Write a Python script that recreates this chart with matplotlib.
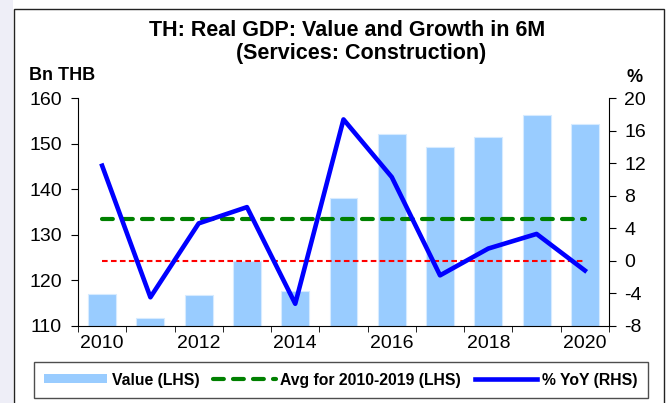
import numpy as np
import matplotlib.pyplot as plt
from matplotlib.patches import Rectangle
from matplotlib.lines import Line2D
from matplotlib.patches import Patch

plt.rcParams['font.family'] = ['Liberation Sans', 'DejaVu Sans']
plt.rcParams['axes.unicode_minus'] = False

# data
years = [2010, 2011, 2012, 2013, 2014, 2015, 2016, 2017, 2018, 2019, 2020]
value_bn = [116.9, 111.7, 116.7, 124.2, 117.6, 138.1, 152.1, 149.2, 151.4, 156.3, 154.3]
yoy_pct = [11.7, -4.5, 4.6, 6.6, -5.3, 17.4, 10.3, -1.8, 1.5, 3.3, -1.2]
avg_2010_2019 = 133.4
tick_labels = ['2010', '2012', '2014', '2016', '2018', '2020']

x = np.arange(len(years))
W, H = 669, 403

fig = plt.figure(figsize=(W / 100, H / 100), dpi=100)
# pale strip on the left and the black frame around the chart
fig.patches.append(Rectangle((0, 0), 13 / W, 1, transform=fig.transFigure,
                             facecolor='#EEEEF7', edgecolor='none'))
fig.patches.append(Rectangle((13.5 / W, -0.05), (663.5 - 13.5) / W, 1.05 - 8.5 / H,
                             transform=fig.transFigure, fill=False,
                             edgecolor='#222222', linewidth=1.0))

ax = fig.add_axes([78 / W, 1 - 325.7 / H, (609 - 78) / W, (325.7 - 98.3) / H])
ax.bar(x, value_bn, width=0.58, color='#99CCFF', edgecolor='#D6EBFF', linewidth=0.8, zorder=1)
ax.plot([x[0], x[-1]], [avg_2010_2019] * 2, color='#008000', linewidth=3.0,
        dashes=(2.6, 2.2), dash_capstyle='round', zorder=2)
ax.set_ylim(110, 160)
ax.set_yticks(range(110, 161, 10))
ax.set_xlim(-0.5, len(years) - 0.5)
ax.set_xticks(x[::2])
ax.set_xticklabels(tick_labels)
ax.set_xticks(np.arange(-0.5, len(years), 1), minor=True)
ax.tick_params(axis='x', which='major', length=0, labelsize=14, pad=7)
ax.tick_params(axis='x', which='minor', length=4.5, direction='out')
ax.tick_params(axis='y', labelsize=14, length=5, direction='out', pad=6.5)
ax.spines['top'].set_visible(False)
ax.spines['right'].set_visible(False)

ax2 = ax.twinx()
ax2.plot([x[0], x[-1]], [0, 0], color='#FF0000', linewidth=1.5, dashes=(2.7, 1.6), zorder=2)
ax2.plot(x, yoy_pct, color='#0000FF', linewidth=3.3, zorder=3)
ax2.set_ylim(-8, 20)
ax2.set_yticks(range(-8, 21, 4))
ax2.tick_params(axis='y', labelsize=14, length=5, direction='out', pad=6)
ax2.spines['top'].set_visible(False)
ax2.spines['left'].set_visible(False)
ax2.spines['bottom'].set_visible(False)

fig.text(347.5 / W, 1 - 31 / H, 'TH: Real GDP: Value and Growth in 6M', ha='center', va='center',
         fontsize=15.5, fontweight='bold')
fig.text(361 / W, 1 - 53 / H, '(Services: Construction)', ha='center', va='center',
         fontsize=15.5, fontweight='bold')
fig.text(29 / W, 1 - 75 / H, 'Bn THB', ha='left', va='center', fontsize=13, fontweight='bold')
fig.text(643 / W, 1 - 77 / H, '%', ha='right', va='center', fontsize=13, fontweight='bold')

handles = [Patch(facecolor='#99CCFF', edgecolor='none'),
           Line2D([], [], color='#008000', linewidth=3.0, dashes=(2.6, 2.2), dash_capstyle='round'),
           Line2D([], [], color='#0000FF', linewidth=3.3)]
labels = ['Value (LHS)', 'Avg for 2010-2019 (LHS)', '% YoY (RHS)']
leg = fig.legend(handles, labels, loc='center', bbox_to_anchor=(341 / W, 1 - 380 / H), ncol=3,
                 frameon=True, fancybox=False, edgecolor='#222222', handlelength=4.0,
                 handleheight=0.5, columnspacing=0.85, handletextpad=0.3,
                 prop={'weight': 'bold', 'size': 11.3}, borderpad=0.65, borderaxespad=0)
leg.get_frame().set_linewidth(1.0)

fig.savefig('out.png', dpi=100)
